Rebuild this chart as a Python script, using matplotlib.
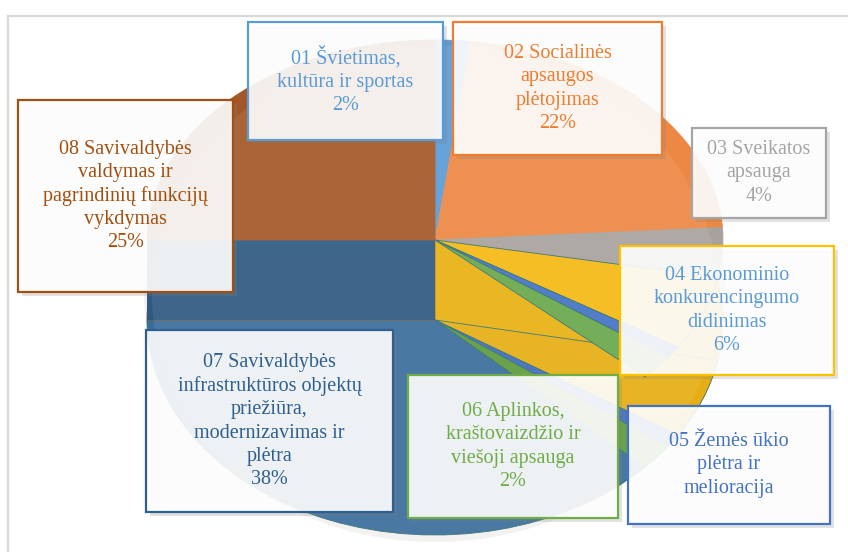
'''Pie chart of municipal budget programmes with callout boxes'''

import matplotlib
matplotlib.use("Agg")
import matplotlib.pyplot as plt
from matplotlib.patches import Rectangle, Ellipse

# data
codes = ["01", "02", "03", "04", "05", "06", "07", "08"]
names = ["Švietimas,\nkultūra ir sportas",
	"Socialinės\napsaugos\nplėtojimas",
	"Sveikatos\napsauga",
	"Ekonominio\nkonkurencingumo\ndidinimas",
	"Žemės ūkio\nplėtra ir\nmelioracija",
	"Aplinkos,\nkraštovaizdžio ir\nviešoji apsauga",
	"Savivaldybės\ninfrastruktūros objektų\npriežiūra,\nmodernizavimas ir\nplėtra",
	"Savivaldybės\nvaldymas ir\npagrindinių funkcijų\nvykdymas"]
shares = [2, 22, 4, 6, 1, 2, 38, 25]
show_pct = [True, True, True, True, False, True, True, True]

# colours
top_colors = ["#5B9BD5", "#EC8744", "#A8A29D", "#F4B912", "#4472C4", "#6AA84A", "#3A6D9C", "#A35726"]
low_colors = ["#E8B012", "#E8B012", "#E8B012", "#E6AE14", "#3F6BBC", "#5E9A3C", "#3A6D9C", "#A35726"]
wall_color = "#2E5A82"
edge_colors = ["#5B9BD5", "#ED7D31", "#A5A5A5", "#FFC000", "#4472C4", "#70AD47", "#2F5F8F", "#A3500F"]
text_colors = ["#5B9BD5", "#ED7D31", "#A5A5A5", "#5B9BD5", "#4472C4", "#70AD47", "#2F5F8F", "#A3500F"]

# layout in pixels (x0, y0, x1, y1), image coords
boxes = [(248, 22, 443, 140), (453, 22, 662, 155), (692, 128, 826, 218),
	(620, 246, 834, 375), (628, 406, 830, 524), (408, 375, 618, 518),
	(146, 330, 393, 512), (18, 100, 233, 292)]

W, H = 848, 552
cx, cy_top, cy_low = 435, 240, 320
rx, ry_top, ry_low = 288, 200, 215

plt.rcParams["font.family"] = "serif"
plt.rcParams["font.serif"] = ["Liberation Serif", "DejaVu Serif"]

fig = plt.figure(figsize=(W / 100, H / 100), dpi=100)
fig.patch.set_facecolor("white")

def pie_axes(cx, cy, rx, ry, z):
	ax = fig.add_axes([(cx - rx) / W, 1 - (cy + ry) / H, 2 * rx / W, 2 * ry / H], zorder=z)
	ax.set_axis_off()
	ax.patch.set_visible(False)
	return ax

# frame and faint glow behind the pie
back = fig.add_axes([0, 0, 1, 1], zorder=0)
back.set_xlim(0, W)
back.set_ylim(H, 0)
back.set_axis_off()
back.add_patch(Ellipse((cx, 292), 2 * rx + 6, 500, color="#F3F1F0", lw=0))
back.plot([8, W], [16, 16], color="#D9D9D9", lw=1.6)
back.plot([8, 8], [16, H], color="#D9D9D9", lw=1.6)

# lower face
ax_low = pie_axes(cx, cy_low, rx, ry_low, 1)
low_wedges, _ = ax_low.pie(shares, colors=low_colors, startangle=90, counterclock=False, radius=1,
	wedgeprops=dict(linewidth=0.6, edgecolor="#2F6F70"))
for i in [0, 1, 2, 7]:
	low_wedges[i].set_edgecolor(low_colors[i])
ax_low.set_xlim(-1, 1)
ax_low.set_ylim(-1, 1)
ax_low.set_aspect("auto")
depth = (cy_low - cy_top) / ry_low
ax_low.add_patch(Rectangle((-1, 0), 1, depth, color=wall_color, lw=0))

# upper face
ax_up = pie_axes(cx, cy_top, rx, ry_top, 2)
wedges, _ = ax_up.pie(shares, colors=top_colors, startangle=90, counterclock=False, radius=1,
	wedgeprops=dict(linewidth=0.6, edgecolor="#2F6F70"))
wedges[6].set_visible(False)
for i in [0, 1, 2, 7]:
	wedges[i].set_edgecolor(top_colors[i])
ax_up.set_xlim(-1, 1)
ax_up.set_ylim(-1, 1)
ax_up.set_aspect("auto")

# boxes on top of everything
main = fig.add_axes([0, 0, 1, 1], zorder=10)
main.set_xlim(0, W)
main.set_ylim(H, 0)
main.set_axis_off()
main.patch.set_visible(False)

# glossy overlay
main.add_patch(Ellipse((cx, 295), 2 * rx - 10, 500, color="white", alpha=0.08, lw=0))

for i, code in enumerate(codes):
	x0, y0, x1, y1 = boxes[i]
	main.add_patch(Rectangle((x0 + 4, y0 + 4), x1 - x0, y1 - y0, color="#7F7F7F", alpha=0.22, lw=0))
	main.add_patch(Rectangle((x0, y0), x1 - x0, y1 - y0, facecolor="white", alpha=0.9, lw=0))
	main.add_patch(Rectangle((x0, y0), x1 - x0, y1 - y0, facecolor="none",
		edgecolor=edge_colors[i], lw=1.6))
	label = code + " " + names[i]
	if show_pct[i]:
		label += "\n{}%".format(shares[i])
	# labels as figure text, centred in each box
	fig.text(((x0 + x1) / 2) / W, 1 - ((y0 + y1) / 2) / H, label, ha="center", va="center",
		color=text_colors[i], family="Liberation Serif", fontsize=14.5, linespacing=1.3, zorder=20)

fig.savefig("out.png", dpi=100)
